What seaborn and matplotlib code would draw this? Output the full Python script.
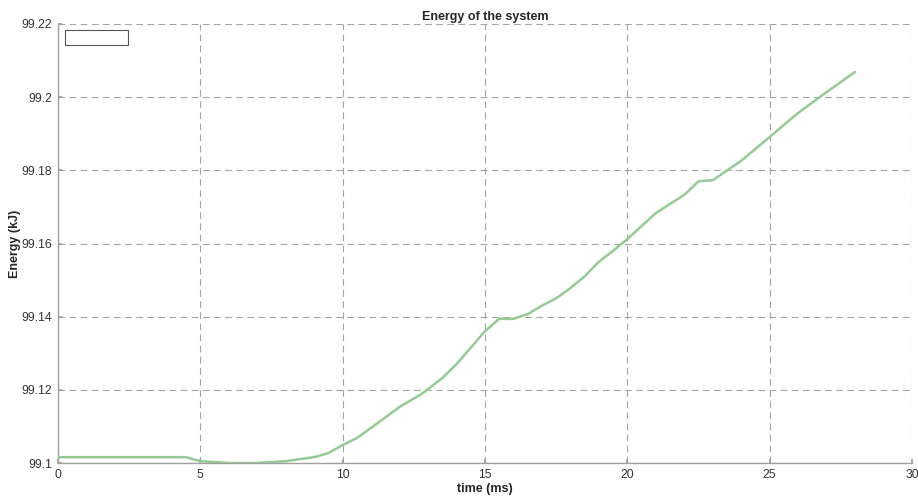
import matplotlib
matplotlib.use("Agg")
import matplotlib.pyplot as plt
import seaborn as sns
import pandas as pd
from matplotlib.patches import Rectangle

# Simulated total energy over time
time_ms = [0, 4.5, 5, 6, 7, 8, 9, 9.5, 10, 10.5, 11, 12, 12.8, 13.5, 14, 15,
           15.5, 16, 16.5, 17, 17.5, 18, 18.5, 19, 19.5, 20, 21, 22, 22.5, 23,
           24, 25, 26, 27, 28]
energy_kj = [99.1016, 99.1016, 99.1005, 99.1000, 99.1000, 99.1005, 99.1016,
             99.1027, 99.1049, 99.1068, 99.1096, 99.1153, 99.1190, 99.1232,
             99.1270, 99.1360, 99.1394, 99.1394, 99.1407, 99.1430, 99.1450,
             99.1478, 99.1510, 99.1550, 99.1580, 99.1612, 99.1683, 99.1733,
             99.1770, 99.1773, 99.1826, 99.1891, 99.1957, 99.2014, 99.2069]

x_ticks = [0, 5, 10, 15, 20, 25, 30]
y_ticks = [99.1, 99.12, 99.14, 99.16, 99.18, 99.2, 99.22]
y_tick_labels = ["99.1", "99.12", "99.14", "99.16", "99.18", "99.2", "99.22"]

df = pd.DataFrame({"time": time_ms, "energy": energy_kj})

sns.set_theme(style="white")
plt.rcParams["font.family"] = ["Liberation Sans", "DejaVu Sans"]

fig, ax = plt.subplots(figsize=(9.18, 5.0), dpi=100)
fig.subplots_adjust(left=0.063, right=0.9935, top=0.952, bottom=0.074)

sns.lineplot(data=df, x="time", y="energy", ax=ax, color="#93cb93",
             linewidth=1.8, zorder=3)

ax.set_xlim(0, 30)
ax.set_ylim(99.1, 99.22)
ax.set_xticks(x_ticks)
ax.set_yticks(y_ticks)
ax.set_yticklabels(y_tick_labels)

ax.grid(True, linestyle=(0, (6, 4)), color="#a4a4a4", linewidth=0.8)
for side in ("top", "right"):
    ax.spines[side].set_visible(False)
for side in ("left", "bottom"):
    ax.spines[side].set_color("#a0a0a0")
    ax.spines[side].set_linewidth(1.0)

ax.tick_params(axis="both", labelsize=8.7, colors="#333333", length=3,
               direction="in", left=True, bottom=True, pad=4)
ax.tick_params(axis="both", color="#a0a0a0")

ax.set_title("Energy of the system", fontsize=9, fontweight="bold", pad=3)
ax.set_xlabel("time (ms)", fontsize=9, fontweight="bold", labelpad=2)
ax.set_ylabel("Energy (kJ)", fontsize=9, fontweight="bold")
ax.yaxis.set_label_coords(-0.043, 0.5)

# Empty legend box in the upper-left corner
ax.add_patch(Rectangle((0.008, 0.953), 0.074, 0.034, transform=ax.transAxes,
                       facecolor="white", edgecolor="#555555", linewidth=0.8,
                       zorder=5))

fig.savefig("out.png", dpi=100, facecolor="white")
